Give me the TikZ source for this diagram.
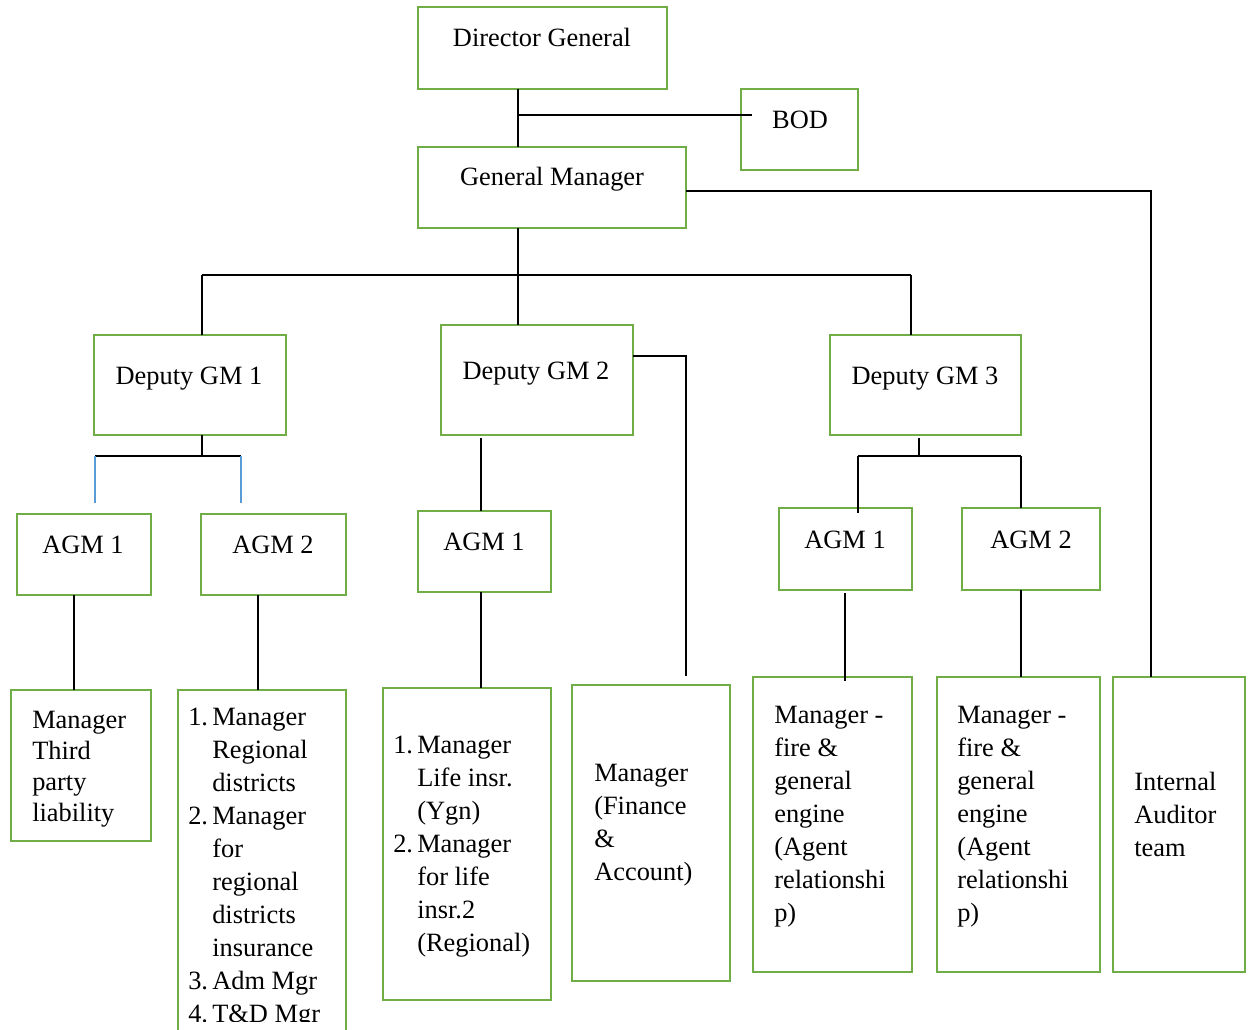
\documentclass[tikz,border=0pt]{standalone}
\usepackage{fontspec}
\setmainfont{Liberation Serif}
\definecolor{boxgreen}{RGB}{112,173,71}
\definecolor{lineblue}{RGB}{91,155,213}
\newcommand{\boxfont}{\fontsize{19.8}{24.75}\selectfont}
\newcommand{\tightfont}{\fontsize{19.8}{23.25}\selectfont}
\newcommand{\lnum}[1]{\makebox[18pt][l]{#1}}
\newcommand{\lind}{\hspace*{18pt}}
\tikzset{
  box/.style={draw=boxgreen, line width=2pt, inner sep=0pt, outer sep=0pt, anchor=north west},
  sz/.style 2 args={minimum width=#1*0.75pt, minimum height=#2*0.75pt},
  lbl/.style={inner sep=0pt, anchor=base, font=\boxfont},
  txt/.style={inner sep=0pt, anchor=north west, align=left, font=\boxfont},
  link/.style={draw=black, line width=0.9pt}
}
\begin{document}
\begin{tikzpicture}[x=0.75pt,y=0.75pt,yscale=-1,xscale=1]
\useasboundingbox (0,0) rectangle (1251,1030);
\clip (0,0) rectangle (1251,1030);

%Shape: Rectangle [top]
\node[box, sz={249}{82}] (dg) at (418,7) {};
\node[box, sz={117}{81}] (bod) at (741,89) {};
\node[box, sz={268}{81}] (gm) at (418,147) {};
%Shape: Rectangle [deputies]
\node[box, sz={192}{100}] (dgm1) at (94,335) {};
\node[box, sz={192}{110}] (dgm2) at (441,325) {};
\node[box, sz={191}{100}] (dgm3) at (830,335) {};
%Shape: Rectangle [assistants]
\node[box, sz={134}{81}] (agm1a) at (17,514) {};
\node[box, sz={145}{81}] (agm2a) at (201,514) {};
\node[box, sz={133}{81}] (agm1b) at (418,511) {};
\node[box, sz={133}{82}] (agm1c) at (779,508) {};
\node[box, sz={138}{82}] (agm2c) at (962,508) {};
%Shape: Rectangle [managers]
\node[box, sz={140}{151}] (mgrtp) at (11,690) {};
\node[box, sz={168}{360}] (mgrreg) at (178,690) {};
\node[box, sz={168}{312}] (mgrlife) at (383,688) {};
\node[box, sz={158}{296}] (mgrfin) at (572,685) {};
\node[box, sz={159}{295}] (mgrfire1) at (753,677) {};
\node[box, sz={163}{295}] (mgrfire2) at (937,677) {};
\node[box, sz={132}{295}] (audit) at (1113,677) {};

%Straight Lines
\draw[link] (518,0 |- dg.south) -- (518,0 |- gm.north);
\draw[link] (518,115) -- ([xshift=8pt]bod.west |- 0,115);
\draw[link] (gm.east |- 0,191) -- (1151,191) -- (1151,0 |- audit.north);
\draw[link] (518,0 |- gm.south) -- (518,275);
\draw[link] (202,275) -- (911,275);
\draw[link] (202,275) -- (202,0 |- dgm1.north);
\draw[link] (518,275) -- (518,0 |- dgm2.north);
\draw[link] (911,275) -- (911,0 |- dgm3.north);
% deputy 1
\draw[link] (202,0 |- dgm1.south) -- (202,456);
\draw[link] (95,456) -- (241,456);
\draw[lineblue, line width=0.9pt] (95,456) -- (95,503);
\draw[lineblue, line width=0.9pt] (241,456) -- (241,503);
% deputy 2
\draw[link] (481,438) -- (481,0 |- agm1b.north);
\draw[link] (dgm2.east |- 0,356) -- (686,356) -- (686,676);
% deputy 3
\draw[link] (919,438) -- (919,456);
\draw[link] (858,456) -- (1021,456);
\draw[link] (858,456) -- (858,513);
\draw[link] (1021,456) -- (1021,0 |- agm2c.north);
% assistants to managers
\draw[link] (74,0 |- agm1a.south) -- (74,0 |- mgrtp.north);
\draw[link] (258,0 |- agm2a.south) -- (258,0 |- mgrreg.north);
\draw[link] (481,0 |- agm1b.south) -- (481,0 |- mgrlife.north);
\draw[link] (845,593) -- (845,681);
\draw[link] (1021,0 |- agm2c.south) -- (1021,0 |- mgrfire2.north);

% Text Node
\node[lbl] (dg-t) at (542,47) {Director General};
\node[lbl] (bod-t) at (800,129) {BOD};
\node[lbl] (gm-t) at (552,186) {General Manager};
\node[lbl] (dgm1-t) at (189,384) {Deputy GM 1};
\node[lbl] (dgm2-t) at (536,379) {Deputy GM 2};
\node[lbl] (dgm3-t) at (925,384) {Deputy GM 3};
\node[lbl] (agm1a-t) at (83,553) {AGM 1};
\node[lbl] (agm2a-t) at (273,553) {AGM 2};
\node[lbl] (agm1b-t) at (484,550) {AGM 1};
\node[lbl] (agm1c-t) at (845,548) {AGM 1};
\node[lbl] (agm2c-t) at (1031,548) {AGM 2};

% Text Node
\node[txt, font=\tightfont] (mgrtp-t) at (32,711) {Manager\\Third\\party\\liability};
\begin{scope}
\clip (178,690) rectangle (346,1021);
\node[txt] (mgrreg-t) at (188,708) {\lnum{1.}Manager\\\lind Regional\\\lind districts\\\lnum{2.}Manager\\\lind for\\\lind regional\\\lind districts\\\lind insurance\\\lnum{3.}Adm Mgr\\\lnum{4.}T\&D Mgr};
\end{scope}
\node[txt] (mgrlife-t) at (393,736) {\lnum{1.}Manager\\\lind Life insr.\\\lind (Ygn)\\\lnum{2.}Manager\\\lind for life\\\lind insr.2\\\lind (Regional)};
\node[txt] (mgrfin-t) at (594,764) {Manager\\(Finance\\\&\\Account)};
\node[txt] (mgrfire1-t) at (774,706) {Manager -\\fire \&\\general\\engine\\(Agent\\relationshi\\p)};
\node[txt] (mgrfire2-t) at (957,706) {Manager -\\fire \&\\general\\engine\\(Agent\\relationshi\\p)};
\node[txt] (audit-t) at (1134,772) {Internal\\Auditor\\team};

\end{tikzpicture}
\end{document}
